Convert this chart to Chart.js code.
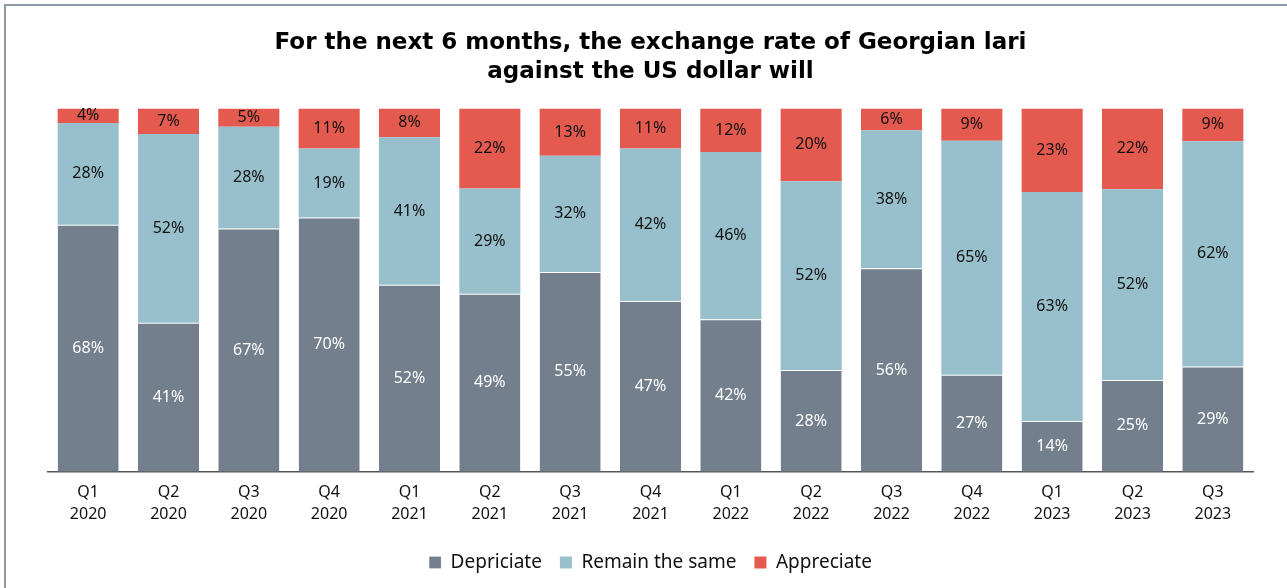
<!DOCTYPE html>
<html>
<head>
<meta charset="utf-8">
<script src="https://cdn.jsdelivr.net/npm/chart.js@4/dist/chart.umd.min.js"></script>
<style>
  html, body { margin: 0; padding: 0; background: #fff; }
  .frame {
    position: absolute; left: 4px; top: 4px; width: 1283px; height: 584px;
    border-left: 2px solid #8e99a5; border-top: 2px solid #8e99a5;
    box-sizing: border-box;
  }
  .chartContainer { position: absolute; left: 0; top: 0; width: 1287px; height: 588px; }
</style>
</head>
<body>
<div class="frame"></div>
<div class="chartContainer"><canvas id="chart"></canvas></div>
<script>
const categories = [
  ['Q1', '2020'], ['Q2', '2020'], ['Q3', '2020'], ['Q4', '2020'],
  ['Q1', '2021'], ['Q2', '2021'], ['Q3', '2021'], ['Q4', '2021'],
  ['Q1', '2022'], ['Q2', '2022'], ['Q3', '2022'], ['Q4', '2022'],
  ['Q1', '2023'], ['Q2', '2023'], ['Q3', '2023']
];
const depreciate = [68, 41, 67, 70, 52, 49, 55, 47, 42, 28, 56, 27, 14, 25, 29];
const remainSame = [28, 52, 28, 19, 41, 29, 32, 42, 46, 52, 38, 65, 63, 52, 62];
const appreciate = [4, 7, 5, 11, 8, 22, 13, 11, 12, 20, 6, 9, 23, 22, 9];

// bars are shown as 100% stacks; labels keep the survey values
const totals = depreciate.map((v, i) => v + remainSame[i] + appreciate[i]);
const share = (arr) => arr.map((v, i) => v / totals[i] * 100);

const labelFont = '"Noto Sans", "Open Sans", sans-serif';

const segmentLabels = {
  id: 'segmentLabels',
  afterDatasetsDraw(chart) {
    const ctx = chart.ctx;
    ctx.save();
    ctx.font = '16px ' + labelFont;
    ctx.textAlign = 'center';
    ctx.textBaseline = 'middle';
    chart.data.datasets.forEach((ds, di) => {
      const meta = chart.getDatasetMeta(di);
      meta.data.forEach((bar, i) => {
        ctx.fillStyle = ds.labelColor;
        ctx.fillText(ds.raw[i] + '%', bar.x, (bar.y + bar.base) / 2);
      });
    });
    ctx.restore();
  }
};

const ctx = document.getElementById('chart').getContext('2d');
new Chart(ctx, {
  type: 'bar',
  data: {
    labels: categories,
    datasets: [
      {
        label: 'Depriciate',
        data: share(depreciate),
        raw: depreciate,
        labelColor: '#ffffff',
        backgroundColor: '#737f8c',
        borderColor: '#ffffff',
        borderWidth: { top: 1, left: 0, right: 0, bottom: 0 },
        borderSkipped: false
      },
      {
        label: 'Remain the same',
        data: share(remainSame),
        raw: remainSame,
        labelColor: '#111111',
        backgroundColor: '#97bfcc',
        borderWidth: 0
      },
      {
        label: 'Appreciate',
        data: share(appreciate),
        raw: appreciate,
        labelColor: '#111111',
        backgroundColor: '#e45a4f',
        borderWidth: 0
      }
    ]
  },
  options: {
    responsive: true,
    maintainAspectRatio: false,
    animation: false,
    datasets: { bar: { categoryPercentage: 1, barPercentage: 0.76 } },
    layout: { padding: { left: 48, right: 34, top: 0, bottom: 6 } },
    scales: {
      x: {
        stacked: true,
        grid: { display: false, drawTicks: false },
        border: { display: true, color: '#555555', width: 1.5 },
        ticks: {
          color: '#111111',
          font: { family: labelFont, size: 16, lineHeight: 1.35 },
          padding: 10,
          maxRotation: 0,
          autoSkip: false
        }
      },
      y: {
        stacked: true,
        min: 0,
        max: 100,
        display: false
      }
    },
    plugins: {
      title: {
        display: true,
        text: ['For the next 6 months, the exchange rate of Georgian lari', 'against the US dollar will'],
        color: '#000000',
        font: { family: '"DejaVu Sans", Verdana, sans-serif', size: 23, weight: 'bold', lineHeight: 1.25 },
        padding: { top: 29, bottom: 22 }
      },
      legend: {
        position: 'bottom',
        labels: {
          color: '#111111',
          font: { family: labelFont, size: 19 },
          boxWidth: 12,
          boxHeight: 12,
          padding: 18
        }
      },
      tooltip: { enabled: false }
    }
  },
  plugins: [segmentLabels]
});
</script>
</body>
</html>
